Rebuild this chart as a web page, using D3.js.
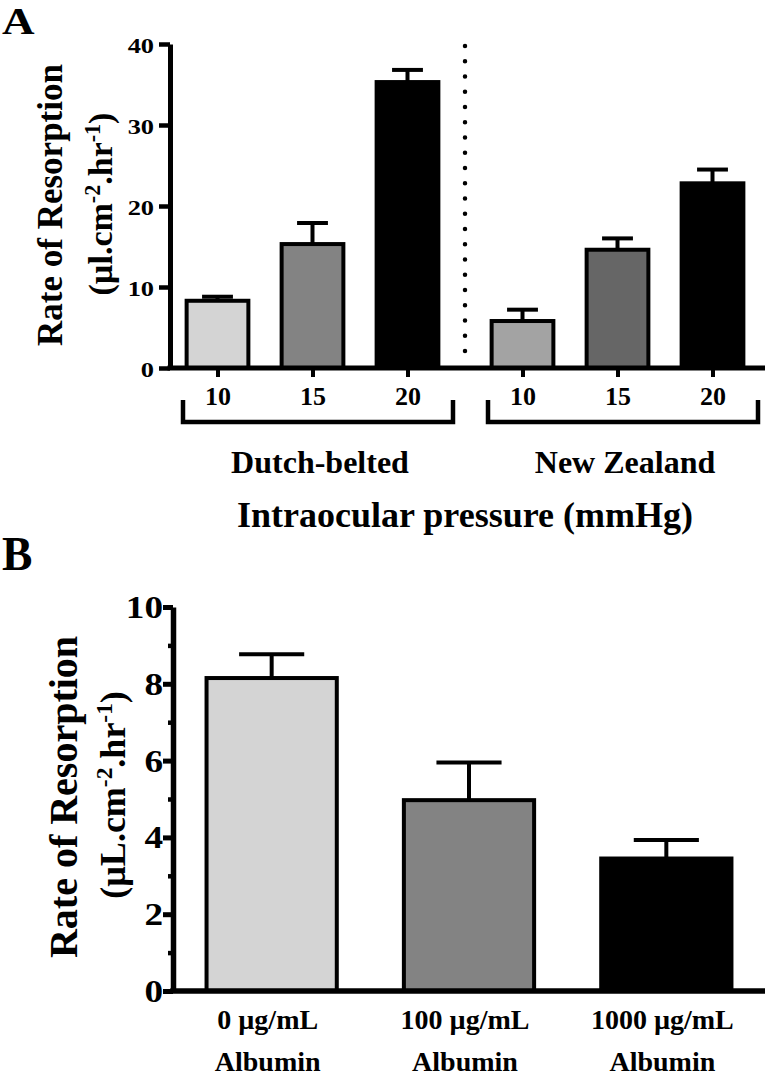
<!DOCTYPE html>
<html><head><meta charset="utf-8">
<script src="https://cdn.jsdelivr.net/npm/d3@7"></script>
<style>
body{margin:0;background:#fff}
svg{display:block}
text{font-family:"Liberation Serif","Times New Roman",serif;font-weight:bold;fill:#000}
</style>
</head><body>
<script>
// ---------- Panel A data ----------
const groupsA = ["Dutch-belted", "New Zealand"];
const pressuresA = ["10", "15", "20"];
const meanA_DB = [8.3, 15.3, 35.3];
const semA_DB = [0.5, 2.6, 1.5];
const meanA_NZ = [5.8, 14.6, 22.8];
const semA_NZ = [1.4, 1.4, 1.7];
const yTicksA = [0, 10, 20, 30, 40];
const xTitleA = "Intraocular pressure (mmHg)";
const yTitleA = "Rate of Resorption";
const yUnitA = [["(µl.cm", 0], ["-2", 1], [".hr", 0], ["-1", 1], [")", 0]];

// ---------- Panel B data ----------
const categoriesB = ["0 µg/mL", "100 µg/mL", "1000 µg/mL"];
const categoryLine2B = "Albumin";
const meanB = [8.15, 4.97, 3.45];
const semB = [0.62, 0.98, 0.48];
const yTicksB = [0, 2, 4, 6, 8, 10];
const yMinorTicksB = [1, 3, 5, 7, 9];
const yTitleB = "Rate of Resorption";
const yUnitB = [["(µL.cm", 0], ["-2", 1], [".hr", 0], ["-1", 1], [")", 0]];

// ---------- styles ----------
const fillsA_DB = ["#d4d4d4", "#838383", "#000000"];
const fillsA_NZ = ["#a3a3a3", "#666666", "#000000"];
const fillsB = ["#d4d4d4", "#838383", "#000000"];

const W = 765, H = 1079;
const svg = d3.select("body").append("svg").attr("width", W).attr("height", H);

function addText(parent, x, y, str, size, o = {}) {
  const t = parent.append("text")
    .attr("transform", `translate(${x},${y})${o.rotate ? ` rotate(${o.rotate})` : ""} scale(${o.sx || 1},1)`)
    .attr("text-anchor", o.anchor || "middle")
    .attr("font-size", size);
  if (typeof str === "string") t.text(str);
  else {
    const raise = size * 0.36;
    let up = false;
    str.forEach(([s, sup]) => {
      const ts = t.append("tspan").text(s);
      if (sup) { ts.attr("font-size", size * 0.65).attr("dy", up ? 0 : -raise); up = true; }
      else { if (up) ts.attr("dy", raise); up = false; }
    });
  }
  return t;
}

// ================= PANEL A =================
const gA = svg.append("g");
const axisXA = 170, y0A = 368;
const yA = d3.scaleLinear().domain([0, 40]).range([y0A, 44]);
const xGroupA = d3.scaleBand().domain(groupsA).range([axisXA, 760]).paddingInner(0.0656).paddingOuter(0);
const xInnerA = d3.scaleBand().domain(pressuresA).range([0, xGroupA.bandwidth()]).paddingInner(0.35).paddingOuter(0.175);

const recsA = groupsA.flatMap((g, gi) => pressuresA.map((p, pi) => ({
  group: g, p, key: g + "|" + p,
  mean: gi ? meanA_NZ[pi] : meanA_DB[pi],
  sem: gi ? semA_NZ[pi] : semA_DB[pi],
  fill: gi ? fillsA_NZ[pi] : fillsA_DB[pi]
})));
const cx = d => xGroupA(d.group) + xInnerA(d.p) + xInnerA.bandwidth() / 2;
const bwA = xInnerA.bandwidth();

// dotted separator
const sepX = (xGroupA(groupsA[0]) + xGroupA.bandwidth() + xGroupA(groupsA[1])) / 2;
gA.append("line").attr("x1", sepX).attr("x2", sepX).attr("y1", yA(40) + 2).attr("y2", y0A - 2)
  .attr("stroke", "#000").attr("stroke-width", 4.5).attr("stroke-linecap", "round")
  .attr("stroke-dasharray", "0,15.25");

// bars
gA.selectAll("rect.bar").data(recsA).join("rect").attr("class", "bar")
  .attr("x", d => cx(d) - bwA / 2).attr("width", bwA)
  .attr("y", d => yA(d.mean)).attr("height", d => y0A - yA(d.mean))
  .attr("fill", d => d.fill).attr("stroke", "#000").attr("stroke-width", 4);
// error bars
const errA = gA.selectAll("g.err").data(recsA).join("g").attr("class", "err")
  .attr("stroke", "#000").attr("stroke-width", 4);
errA.append("line").attr("x1", cx).attr("x2", cx).attr("y1", d => yA(d.mean)).attr("y2", d => yA(d.mean + d.sem));
errA.append("line").attr("x1", d => cx(d) - bwA / 4).attr("x2", d => cx(d) + bwA / 4)
  .attr("y1", d => yA(d.mean + d.sem)).attr("y2", d => yA(d.mean + d.sem));

// y axis
const yAxA = gA.append("g").attr("transform", `translate(${axisXA},0)`)
  .call(d3.axisLeft(yA).tickValues(yTicksA).tickSize(11).tickSizeOuter(0).tickFormat(d => d));
yAxA.select(".domain").attr("stroke-width", 5);
yAxA.selectAll(".tick line").attr("stroke-width", 4.5);
yAxA.selectAll(".tick text").attr("font-size", 22).attr("x", -16 / 1.2).attr("dy", null).attr("y", 8)
  .attr("transform", "scale(1.2,1)");

// x axis
const xOrdA = d3.scaleOrdinal().domain(recsA.map(d => d.key)).range(recsA.map(cx));
gA.append("line").attr("x1", axisXA - 2.5).attr("x2", W).attr("y1", y0A).attr("y2", y0A)
  .attr("stroke", "#000").attr("stroke-width", 5);
const xAxA = gA.append("g").attr("transform", `translate(0,${y0A})`)
  .call(d3.axisBottom(xOrdA).tickSize(9).tickSizeOuter(0).tickFormat(k => k.split("|")[1]));
xAxA.select(".domain").remove();
xAxA.selectAll(".tick line").attr("stroke-width", 4);
xAxA.selectAll(".tick text").attr("font-size", 26).attr("dy", null).attr("y", 37);

// brackets + group labels
groupsA.forEach(g => {
  const l = xGroupA(g) + 13, r = xGroupA(g) + xGroupA.bandwidth() - 2;
  gA.append("path").attr("d", `M${l},400V422H${r}V400`).attr("fill", "none")
    .attr("stroke", "#000").attr("stroke-width", 4.5);
  addText(gA, (l + r) / 2 + 2, 473, g, 32);
});
addText(gA, 465, 527, xTitleA, 36);
addText(gA, 62, 205, yTitleA, 35, { rotate: -90 });
addText(gA, 112, 204, yUnitA, 34, { rotate: -90 });
addText(gA, 2, 34, "A", 37, { anchor: "start", sx: 1.22 });

// ================= PANEL B =================
const gB = svg.append("g");
const axisXB = 173, y0B = 991;
const yB = d3.scaleLinear().domain([0, 10]).range([y0B, 607]);
const xB = d3.scaleBand().domain(categoriesB).range([axisXB, W]).paddingInner(0.34).paddingOuter(0.17);
const bwB = xB.bandwidth();
const recsB = categoriesB.map((c, i) => ({ c, mean: meanB[i], sem: semB[i], fill: fillsB[i] }));
const cxB = d => xB(d.c) + bwB / 2;

gB.selectAll("rect.bar").data(recsB).join("rect").attr("class", "bar")
  .attr("x", d => xB(d.c)).attr("width", bwB)
  .attr("y", d => yB(d.mean)).attr("height", d => y0B - yB(d.mean))
  .attr("fill", d => d.fill).attr("stroke", "#000").attr("stroke-width", 4);
const errB = gB.selectAll("g.err").data(recsB).join("g").attr("class", "err")
  .attr("stroke", "#000").attr("stroke-width", 4);
errB.append("line").attr("x1", cxB).attr("x2", cxB).attr("y1", d => yB(d.mean)).attr("y2", d => yB(d.mean + d.sem));
errB.append("line").attr("x1", d => cxB(d) - bwB / 4).attr("x2", d => cxB(d) + bwB / 4)
  .attr("y1", d => yB(d.mean + d.sem)).attr("y2", d => yB(d.mean + d.sem));

// y axis (major + minor)
const yAxB = gB.append("g").attr("transform", `translate(${axisXB},0)`)
  .call(d3.axisLeft(yB).tickValues(yTicksB).tickSize(10).tickSizeOuter(0).tickFormat(d => d));
yAxB.select(".domain").attr("stroke-width", 5.5);
yAxB.selectAll(".tick line").attr("stroke-width", 5);
yAxB.selectAll(".tick text").attr("font-size", 31).attr("x", -10 / 1.2).attr("dy", null).attr("y", 10.5)
  .attr("transform", "scale(1.2,1)");
const yMinB = gB.append("g").attr("transform", `translate(${axisXB},0)`)
  .call(d3.axisLeft(yB).tickValues(yMinorTicksB).tickSize(5).tickSizeOuter(0).tickFormat(""));
yMinB.select(".domain").remove();
yMinB.selectAll(".tick line").attr("stroke-width", 4.5);

// x axis
gB.append("line").attr("x1", axisXB - 2.75).attr("x2", W).attr("y1", y0B).attr("y2", y0B)
  .attr("stroke", "#000").attr("stroke-width", 5.5);
const xAxB = gB.append("g").attr("transform", `translate(0,${y0B})`)
  .call(d3.axisBottom(xB).tickSize(0).tickSizeOuter(0));
xAxB.select(".domain").remove();
xAxB.selectAll(".tick text").each(function (d) {
  const t = d3.select(this).text(null).attr("font-size", 28).attr("dy", null).attr("y", 0);
  t.append("tspan").attr("x", -4).attr("y", 38).text(d);
  t.append("tspan").attr("x", -4).attr("y", 80).text(categoryLine2B);
});

addText(gB, 77, 797, yTitleB, 40, { rotate: -90 });
addText(gB, 125, 795, yUnitB, 36, { rotate: -90 });
addText(gB, 2, 570, "B", 48, { anchor: "start", sx: 0.95 });
</script>
</body></html>
